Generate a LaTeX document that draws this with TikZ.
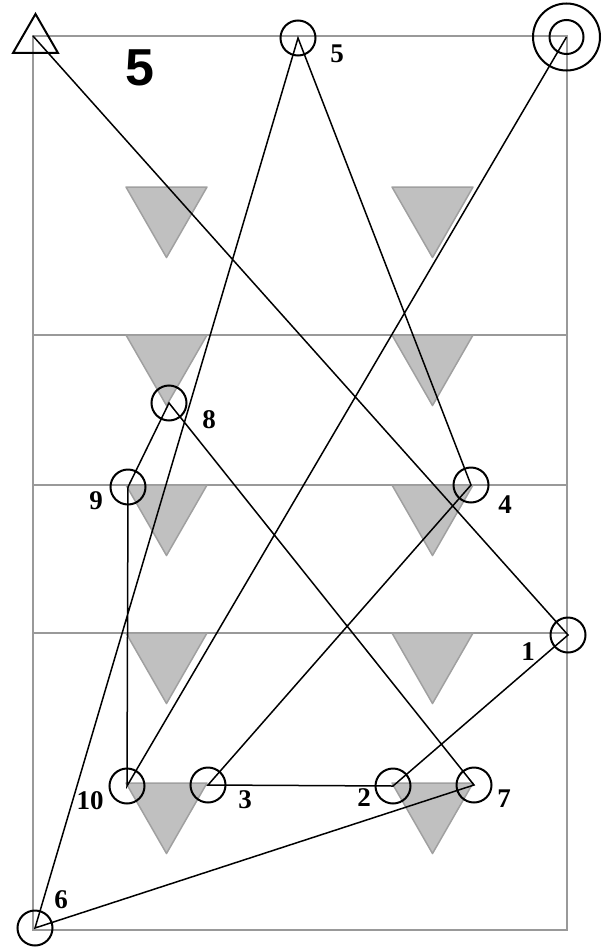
\documentclass[tikz,border=0pt]{standalone}
\usepackage{fontspec}
\setmainfont{Liberation Serif}
\newfontfamily\bigsans{Liberation Sans}
\usetikzlibrary{shapes.geometric}
\definecolor{courtgray}{HTML}{999999}
\definecolor{trifill}{HTML}{C0C0C0}
\definecolor{triline}{HTML}{A0A0A0}
\tikzset{
  courtline/.style={draw=courtgray, line width=1.5pt},
  graytri/.style={fill=trifill, draw=triline, line width=1.5pt, line join=round},
  player/.style={circle, draw=black, line width=2pt, minimum size=35pt, inner sep=0pt},
  route/.style={draw=black, line width=1.5pt},
  num/.style={font=\fontsize{27}{27}\selectfont\bfseries, inner sep=0pt},
}
\begin{document}
\begin{tikzpicture}[x=1pt, y=-1pt]
\useasboundingbox (0,0) rectangle (610,950);
% court
\draw[courtline] (33,36) rectangle (567,930);
\foreach \yy in {335,485,633} \draw[courtline] (33,\yy) -- (567,\yy);
% gray triangles
\foreach \yy in {187,335,485,633,783}{
  \foreach \cx in {166.5,432.5}{
    \draw[graytri] (\cx-40.5,\yy) -- (\cx+40.5,\yy) -- (\cx,\yy+70.5) -- cycle;
  }
}
% big label
\node[font=\bigsans\fontsize{52}{52}\selectfont\bfseries, inner sep=0pt] (title) at (140,68) {5};
% start marker
\node[regular polygon, regular polygon sides=3, draw=black, line width=2pt, minimum size=52pt, inner sep=0pt] (tri) at (35.5,40) {};
\coordinate (start) at (33,36);
% target double circle
\node[circle, draw=black, line width=2pt, minimum size=67pt, inner sep=0pt] (tgtout) at (566.5,37) {};
\node[circle, draw=black, line width=2pt, minimum size=34pt, inner sep=0pt] (tgt) at (566.5,37) {};
% players
\node[player] (p1) at (568,635) {};
\node[player] (p2) at (393,786) {};
\node[player] (p3) at (208,785) {};
\node[player] (p4) at (471,485) {};
\node[player] (p5) at (298,38) {};
\node[player] (p6) at (35,928) {};
\node[player] (p7) at (474,785) {};
\node[player] (p8) at (169,403) {};
\node[player] (p9) at (128,487) {};
\node[player] (p10) at (127,786) {};
% route
\draw[route, line join=miter] (start) -- (p1.center) -- (p2.center) -- (p3.center) -- (p4.center)
  -- (p5.center) -- (p6.center) -- (p7.center) -- (p8.center) -- (p9.center)
  -- (p10.center) -- (tgt.center);
% labels
\node[num] (l1) at (528,652) {1};
\node[num] (l2) at (364,798) {2};
\node[num] (l3) at (245,800) {3};
\node[num] (l4) at (505,505) {4};
\node[num] (l5) at (337,54) {5};
\node[num] (l6) at (61,900) {6};
\node[num] (l7) at (504,799) {7};
\node[num] (l8) at (209,420) {8};
\node[num] (l9) at (96,501) {9};
\node[num] (l10) at (90,801) {10};
\end{tikzpicture}
\end{document}
